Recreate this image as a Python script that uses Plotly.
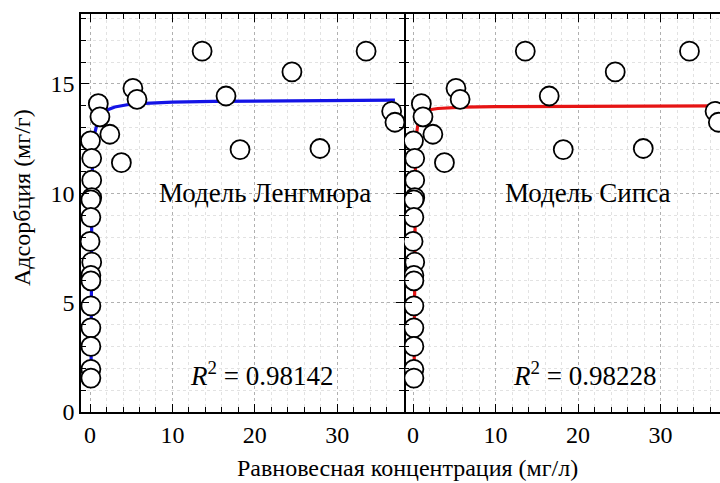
import plotly.graph_objects as go

# Measured adsorption data: equilibrium concentration (mg/L) and uptake (mg/g)
conc = [0.05, 0.2, 0.2, 0.2, 0.1, 0.1, 0.0, 0.2, 0.1, 0.1, 0.1, 0.1, 0.1, 0.1, 0.1,
        1.0, 1.2, 2.4, 3.8, 5.2, 5.7, 13.6, 16.5, 18.2, 24.5, 27.9, 33.5, 36.6, 37.0]
uptake = [12.4, 11.6, 10.6, 9.8, 9.7, 8.9, 7.8, 6.85, 6.25, 6.0, 4.85, 3.85, 3.0, 1.95, 1.55,
          14.1, 13.5, 12.7, 11.4, 14.8, 14.3, 16.5, 14.45, 12.0, 15.55, 12.05, 16.5, 13.75, 13.25]

# Fitted isotherm curves
lang_x = [0.12, 0.15, 0.2, 0.3, 0.45, 0.6, 0.8, 1.0, 1.4, 2.0, 3.0, 4.5, 6.0, 10.0, 15.0, 20.0, 30.0, 37.0]
lang_y = [1.2, 5.0, 9.0, 11.6, 12.4, 12.8, 13.1, 13.35, 13.6, 13.8, 13.95, 14.05, 14.1, 14.17, 14.2, 14.22, 14.25, 14.26]
sips_x = [0.12, 0.15, 0.2, 0.3, 0.45, 0.6, 0.8, 1.0, 1.4, 2.0, 3.0, 4.5, 6.0, 10.0, 15.0, 20.0, 30.0, 37.0]
sips_y = [1.2, 5.0, 9.5, 12.0, 12.8, 13.2, 13.45, 13.6, 13.75, 13.82, 13.88, 13.92, 13.94, 13.96, 13.97, 13.98, 13.99, 14.0]

panels = [
    {"name": "Модель Ленгмюра", "r2": "0.98142", "fx": lang_x, "fy": lang_y, "color": "#1414e6"},
    {"name": "Модель Сипса", "r2": "0.98228", "fx": sips_x, "fy": sips_y, "color": "#e61414"},
]

FONT = "Liberation Serif, Times New Roman, serif"
ML, MR, MT, MB = 81, 0, 14, 71
W, H = 720, 483
PW = W - ML - MR
PH = H - MT - MB

split = (404 - ML) / PW
domains = [[0, split], [split, 1.0]]
x_ranges = [[-1.1, 38.1], [-1.1, 37.2]]

fig = go.Figure()

for i, p in enumerate(panels):
    xa = "x" if i == 0 else "x2"
    ya = "y" if i == 0 else "y2"
    fig.add_trace(go.Scatter(
        x=p["fx"], y=p["fy"], mode="lines", xaxis=xa, yaxis=ya,
        line=dict(color=p["color"], width=3.2), showlegend=False, hoverinfo="skip"))
    fig.add_trace(go.Scatter(
        x=conc, y=uptake, mode="markers", xaxis=xa, yaxis=ya,
        marker=dict(symbol="circle", size=19, color="white",
                    line=dict(color="black", width=1.8)),
        showlegend=False))
    fig.add_annotation(x=21.2, y=10, xref=xa, yref=ya, text=p["name"], showarrow=False,
                       font=dict(family=FONT, size=27, color="black"))
    fig.add_annotation(x=20.8, y=1.75, xref=xa, yref=ya,
                       text="<i>R</i><sup>2</sup> = " + p["r2"], showarrow=False,
                       font=dict(family=FONT, size=27, color="black"))

axis_common = dict(
    showline=True, linecolor="black", linewidth=1.5,
    ticks="inside", ticklen=8, tickwidth=1.2, tickcolor="black",
    showgrid=True, gridcolor="#b0b0b0", gridwidth=1, griddash="dot",
    zeroline=False,
    tickfont=dict(family=FONT, size=24, color="black"),
)

for i in range(2):
    sfx = "" if i == 0 else "2"
    fig.layout["xaxis" + sfx] = dict(
        axis_common, domain=domains[i], range=x_ranges[i], anchor="y" + sfx,
        tickvals=[0, 10, 20, 30], mirror="ticks",
        minor=dict(dtick=2, tick0=0, ticks="inside", ticklen=5, tickcolor="black",
                   showgrid=True, gridcolor="#e2e2e2", griddash="dot"),
    )
    fig.layout["yaxis" + sfx] = dict(
        axis_common, domain=[0, 1], range=[0, 18.2], anchor="x" + sfx,
        tickvals=[0, 5, 10, 15], showticklabels=(i == 0),
        mirror="ticks" if i == 0 else False,
        minor=dict(dtick=1, tick0=0, ticks="inside", ticklen=5, tickcolor="black",
                   showgrid=True, gridcolor="#e2e2e2", griddash="dot"),
    )

# The shared divider is the mirrored frame of the left panel
fig.layout.yaxis2.showline = False

# Axis titles
fig.add_annotation(text="Адсорбция (мг/г)", xref="paper", yref="paper",
                   x=(22 - ML) / PW, y=(H - MB - 198) / PH, textangle=-90,
                   xanchor="center", yanchor="middle", showarrow=False,
                   font=dict(family=FONT, size=24, color="black"))
fig.add_annotation(text="Равновесная концентрация (мг/л)", xref="paper", yref="paper",
                   x=(408 - ML) / PW, y=(H - MB - 468) / PH, xanchor="center",
                   yanchor="middle", showarrow=False,
                   font=dict(family=FONT, size=24, color="black"))

fig.update_layout(
    width=W, height=H,
    margin=dict(l=ML, r=MR, t=MT, b=MB),
    paper_bgcolor="white", plot_bgcolor="white",
)

fig.write_html("out.html")
